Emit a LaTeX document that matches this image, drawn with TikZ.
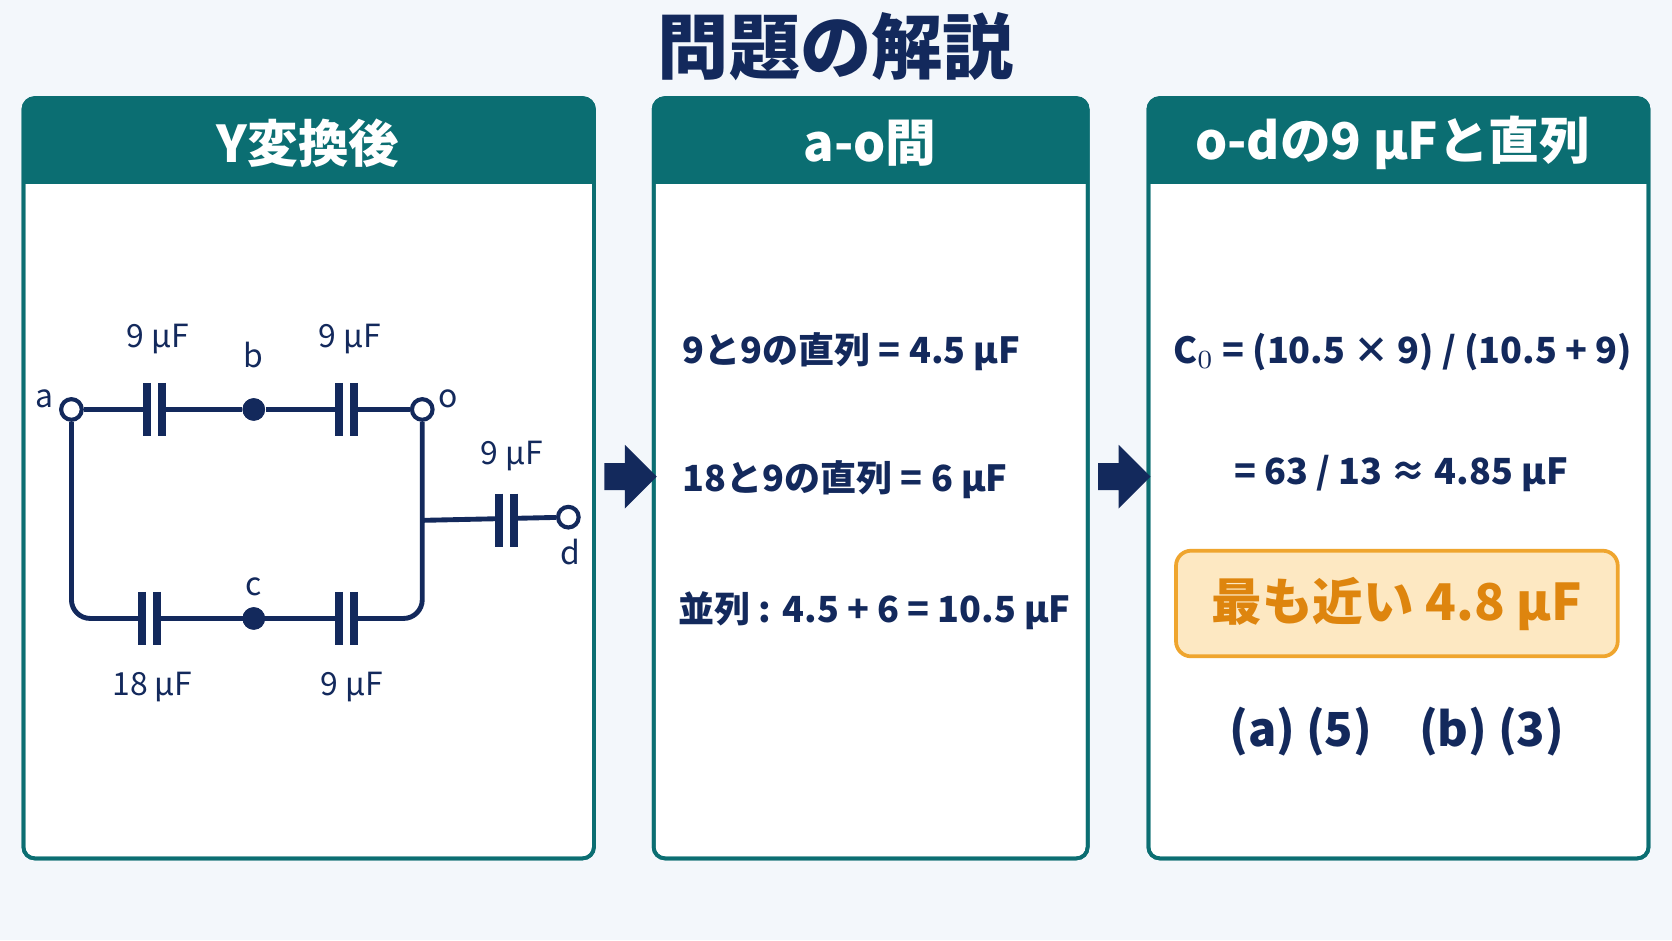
\documentclass[tikz,border=0pt]{standalone}
\usepackage{fontspec}
\setmainfont{Noto Sans CJK JP}
\usetikzlibrary{shapes.arrows}
\definecolor{teal1}{HTML}{0B6E72}
\definecolor{navy1}{HTML}{13295C}
\definecolor{bg1}{HTML}{F3F7FB}
\definecolor{orfill}{HTML}{FDE8C2}
\definecolor{ordraw}{HTML}{EFA52E}
\definecolor{ortext}{HTML}{DE850E}
\tikzset{
  panel/.style={draw=teal1,line width=1pt,fill=white,rounded corners=3pt},
  head/.style={text=white,font=\fontsize{13.5}{14}\selectfont\bfseries},
  body/.style={text=navy1,font=\fontsize{9.6}{12}\selectfont\bfseries,anchor=west},
  lbl/.style={text=navy1,font=\fontsize{8.5}{10}\selectfont},
  wire/.style={navy1,line width=1.3pt},
  term/.style={circle,draw=navy1,line width=1.1pt,fill=white,inner sep=0pt,minimum size=5.5pt},
  junc/.style={circle,fill=navy1,inner sep=0pt,minimum size=6pt},
  blk/.style={single arrow,fill=navy1,minimum height=14pt,minimum width=17pt,single arrow head extend=3pt,inner sep=2pt}
}
% capacitor plates at (#1,#2)
\newcommand\capac[2]{\fill[white] (#1-7,#2-25) rectangle (#1+7,#2+25);
  \draw[navy1,line width=2pt] (#1-7,#2-25) -- (#1-7,#2+25) (#1+7,#2-25) -- (#1+7,#2+25);}
\begin{document}
\begin{tikzpicture}[x=0.01cm,y=-0.01cm]
\fill[bg1] (0,0) rectangle (1568,882);
\useasboundingbox (0,0) rectangle (1568,882);
\node[text=navy1,font=\fontsize{19}{19}\selectfont\bfseries] (title) at (784,44) {問題の解説};

% panels
\foreach \xa/\xb/\nm in {22/557/p1,613/1020/p2,1077/1546/p3}{
  \draw[panel] (\xa,92) rectangle (\xb,805);
  \begin{scope}
    \clip[rounded corners=3pt] (\xa,92) rectangle (\xb,300);
    \fill[teal1] (\xa,92) rectangle (\xb,173);
  \end{scope}
  \draw[draw=teal1,line width=1pt,rounded corners=3pt] (\xa,92) rectangle (\xb,805);
}
\node[head] (h1) at (289,134) {Y変換後};
\node[head] (h2) at (816,134) {a-o間};
\node[head] (h3) at (1306,134) {o-dの9 μFと直列};

% circuit
\node[term] (a) at (67,384) {};
\node[term] (o) at (396,384) {};
\node[term] (d) at (533,485) {};
\node[junc] (b) at (238,384) {};
\node[junc] (c) at (238,580) {};
\coordinate (br) at (396,488);
\draw[wire,rounded corners=5pt] (a) -- (67,580) -- (396,580) -- (o);
\draw[wire] (a) -- (b) -- (o);
\draw[wire] (br) -- (d);
\capac{145}{384}\capac{325}{384}\capac{140}{580}\capac{325}{580}\capac{475}{488}
\node[junc] at (b) {};\node[junc] at (c) {};
\node[lbl] (la) at (42,374) {a};
\node[lbl] (lo) at (420,374) {o};
\node[lbl] (lb) at (238,333) {b};
\node[lbl] (lc) at (238,550) {c};
\node[lbl] (ld) at (535,518) {d};
\node[lbl] (c1) at (148,318) {9 μF};
\node[lbl] (c2) at (328,318) {9 μF};
\node[lbl] (c3) at (480,428) {9 μF};
\node[lbl] (c4) at (143,644) {18 μF};
\node[lbl] (c5) at (330,644) {9 μF};

\node[blk] (ar1) at (585,447) {};
\node[blk] (ar2) at (1048,447) {};

% middle
\node[body] (m1) at (628,330) {9と9の直列 = 4.5 μF};
\node[body] (m2) at (628,450) {18と9の直列 = 6 μF};
\node[body] (m3) at (624,573) {並列 : 4.5 + 6 = 10.5 μF};

% right
\node[body] (r1) at (1088,330) {C$_0$ = (10.5 × 9) / (10.5 + 9)};
\node[body] (r2) at (1145,444) {= 63 / 13 ≈ 4.85 μF};
\node[draw=ordraw,fill=orfill,line width=1pt,rounded corners=4pt,minimum width=4.14cm,minimum height=0.99cm,
  text=ortext,font=\fontsize{13.5}{14}\selectfont\bfseries] (ans) at (1310,566) {最も近い 4.8 μF};
\node[text=navy1,font=\fontsize{12.5}{13}\selectfont\bfseries] (r3) at (1310,686) {(a) (5)\quad (b) (3)};
\end{tikzpicture}
\end{document}
